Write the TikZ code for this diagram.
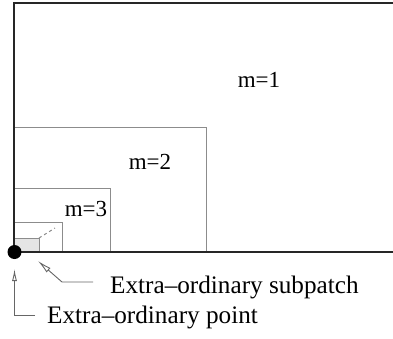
\documentclass[tikz,border=0pt]{standalone}
\usepackage{fontspec}
\setmainfont{Liberation Serif}
\usetikzlibrary{arrows.meta}
\begin{document}
\begin{tikzpicture}[x=1pt,y=-1pt,
  frame/.style={line width=2.6pt,black!85},
  sq/.style={line width=1pt,black!45},
  lead/.style={line width=0.9pt,black!60},
  mlab/.style={inner sep=0pt,font=\fontsize{23}{27}\selectfont},
  blab/.style={inner sep=0pt,anchor=base west,font=\fontsize{25.2}{30}\selectfont},
  tipA/.style={-{Latex[open,length=14pt,width=6pt]}},
]
\useasboundingbox (0,0) rectangle (393,338);
% subdivision squares
\draw[sq] (14,127) -- (206,127) -- (206,252);
\draw[sq] (14,188) -- (110,188) -- (110,252);
\draw[sq] (14,222) -- (62,222) -- (62,252);
\draw[sq,fill=black!10] (14,238) rectangle (39,252);
\draw[sq,dashed] (39,238) -- (55,228);
% frame
\draw[frame] (393,3) -- (14,3) -- (14,252) -- (393,252);
\fill[black] (14.5,252) circle (7);
% labels
\node[mlab] (m1) at (259,80) {m=1};
\node[mlab] (m2) at (150,162) {m=2};
\node[mlab] (m3) at (86,209) {m=3};
\node[blab] (sub) at (110,293) {Extra–ordinary subpatch};
\node[blab] (pt) at (47,323) {Extra–ordinary point};
% leaders
\coordinate (tsub) at (38,261);
\coordinate (ksub) at (62,282);
\coordinate (tpt) at (14.5,269);
\coordinate (kpt) at (14.5,315);
\draw[lead,tipA] ([xshift=-17pt]sub.west |- ksub) -- (ksub) -- (tsub);
\draw[lead,-{Latex[open,length=12pt,width=5pt]}] ([xshift=-12pt]pt.west |- kpt) -- (kpt) -- (tpt);
\end{tikzpicture}
\end{document}
